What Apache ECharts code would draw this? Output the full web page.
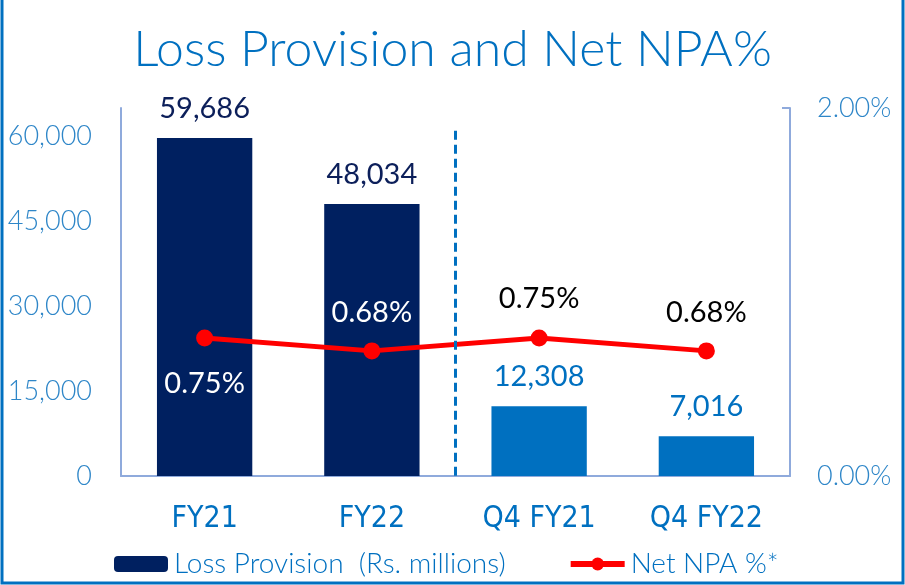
<!DOCTYPE html>
<html>
<head>
<meta charset="utf-8">
<title>Loss Provision and Net NPA%</title>
<script src="https://cdn.jsdelivr.net/npm/echarts@6/dist/echarts.min.js"></script>
<style>
  html, body { margin: 0; padding: 0; background: #ffffff; }
  #chart { width: 905px; height: 585px; }
</style>
</head>
<body>
<div id="chart"></div>
<script>
// ── Data ─────────────────────────────────────────────────────────────
const periods = ['FY21', 'FY22', 'Q4 FY21', 'Q4 FY22'];
const lossProvision = [59686, 48034, 12308, 7016];   // Rs. millions
const netNpaPct = [0.75, 0.68, 0.75, 0.68];           // %
const provisionTicks = [0, 15000, 65000];             // min, step, max
const npaTicks = [0, 2];                              // min, max (%)
const dividerAt = [2, 61000];                         // between FY and quarter groups

// ── Colours ──────────────────────────────────────────────────────────
const NAVY = '#002060';
const BLUE = '#0070c0';
const AXIS_GREY = '#8faadc';
const FONT = 'Lato, "Open Sans", sans-serif';
const NARROW = '"Liberation Sans Narrow", "DejaVu Sans Condensed", sans-serif';

// yearly bars dark, quarterly bars light
const barColors = [NAVY, NAVY, BLUE, BLUE];
const barLabelColors = ['#0c1f5a', '#0c1f5a', BLUE, BLUE];
// where each NPA label sits and its colour
const npaLabelStyle = [
  { position: 'bottom', color: '#ffffff', distance: 23 },
  { position: 'top', color: '#ffffff', distance: 15 },
  { position: 'top', color: '#000000', distance: 16 },
  { position: 'top', color: '#000000', distance: 15 }
];

function fmtThousands(v) {
  return String(v).replace(/\B(?=(\d{3})+(?!\d))/g, ',');
}

const chart = echarts.init(document.getElementById('chart'), null, { renderer: 'canvas' });

const option = {
  backgroundColor: '#ffffff',
  animation: false,
  title: {
    text: 'Loss Provision and Net NPA%',
    left: 'center',
    top: 20,
    textStyle: { fontFamily: FONT, fontSize: 50, fontWeight: 300, color: BLUE }
  },
  legend: {
    data: [
      { name: 'Loss Provision  (Rs. millions)' },
      { name: 'Net NPA %*', lineStyle: { width: 6 }, itemStyle: { color: '#ff0000' } }
    ],
    left: 109,
    top: 545,
    itemWidth: 54,
    itemHeight: 16,
    itemGap: 62,
    textStyle: { fontFamily: FONT, fontSize: 28, fontWeight: 300, color: BLUE, padding: [0, 0, 0, 1] }
  },
  grid: { left: 121, right: 115, top: 108, bottom: 109, containLabel: false },
  xAxis: [
    {
      type: 'category',
      data: periods,
      axisLine: { lineStyle: { color: AXIS_GREY, width: 2 } },
      axisTick: { show: false },
      axisLabel: { fontFamily: NARROW, fontSize: 30, color: BLUE, margin: 28 }
    },
    {
      // hidden value axis, only used to place the dashed divider
      type: 'value',
      min: 0,
      max: periods.length,
      show: false
    }
  ],
  yAxis: [
    {
      type: 'value',
      min: provisionTicks[0],
      max: provisionTicks[2],
      interval: provisionTicks[1],
      splitLine: { show: false },
      axisLine: { show: true, lineStyle: { color: AXIS_GREY, width: 2 } },
      axisTick: { show: false },
      axisLabel: {
        fontFamily: FONT, fontSize: 27, fontWeight: 300, color: '#2e86c8', margin: 29,
        showMaxLabel: false,
        formatter: fmtThousands
      }
    },
    {
      type: 'value',
      min: npaTicks[0],
      max: npaTicks[1],
      interval: npaTicks[1] - npaTicks[0],
      position: 'right',
      splitLine: { show: false },
      axisLine: { show: true, lineStyle: { color: AXIS_GREY, width: 2 } },
      axisTick: { show: true, inside: true, length: 8, lineStyle: { color: AXIS_GREY, width: 2 } },
      axisLabel: {
        fontFamily: FONT, fontSize: 27, fontWeight: 300, color: '#2e86c8', margin: 27,
        formatter: v => v.toFixed(2) + '%'
      }
    }
  ],
  series: [
    {
      name: 'Loss Provision  (Rs. millions)',
      type: 'bar',
      barWidth: '57%',
      itemStyle: { color: NAVY },
      data: lossProvision.map((v, i) => ({
        value: v,
        itemStyle: { color: barColors[i] },
        label: { color: barLabelColors[i] }
      })),
      label: {
        show: true,
        position: 'top',
        distance: 15,
        fontFamily: FONT,
        fontSize: 29,
        formatter: p => fmtThousands(p.value)
      },
      z: 2
    },
    {
      name: 'Net NPA %*',
      type: 'line',
      yAxisIndex: 1,
      symbol: 'circle',
      symbolSize: 17,
      itemStyle: { color: '#ff0000' },
      lineStyle: { color: '#ff0000', width: 5 },
      data: netNpaPct.map((v, i) => ({
        value: v,
        label: npaLabelStyle[i]
      })),
      label: {
        show: true,
        fontFamily: FONT,
        fontSize: 29,
        formatter: p => p.value.toFixed(2) + '%'
      },
      z: 4
    },
    {
      // dashed divider between yearly and quarterly figures
      name: 'divider',
      type: 'line',
      xAxisIndex: 1,
      yAxisIndex: 0,
      data: [],
      silent: true,
      markLine: {
        symbol: 'none',
        silent: true,
        label: { show: false },
        lineStyle: { color: BLUE, type: [9, 5], width: 3 },
        data: [[{ coord: [dividerAt[0], dividerAt[1]] }, { coord: [dividerAt[0], 0] }]]
      },
      z: 3
    }
  ],
  graphic: [
    {
      // frame open at the top
      type: 'polyline',
      shape: { points: [[2, 0], [2, 583], [903, 583], [903, 0]] },
      style: { stroke: BLUE, lineWidth: 3, fill: null },
      silent: true
    }
  ]
};

chart.setOption(option);
</script>
</body>
</html>
